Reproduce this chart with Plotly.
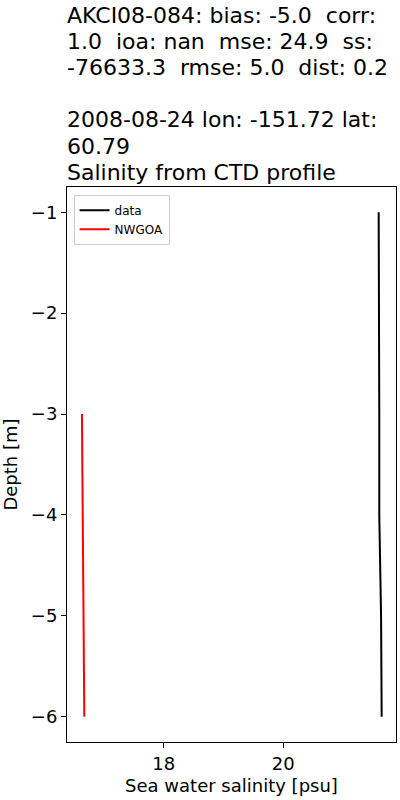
import plotly.graph_objects as go

# observed CTD profile
data_depth = [-1, -2, -3, -4, -5, -6]
data_sal = [21.60, 21.61, 21.61, 21.61, 21.64, 21.65]

# model profile
model_depth = [-3, -4, -5, -6]
model_sal = [16.63, 16.64, 16.66, 16.67]

title_lines = [
    "AKCI08-084: bias: -5.0  corr:",
    "1.0  ioa: nan  mse: 24.9  ss:",
    "-76633.3  rmse: 5.0  dist: 0.2",
    "",
    "2008-08-24 lon: -151.72 lat:",
    "60.79",
    "Salinity from CTD profile",
]

font = "DejaVu Sans"
W, H = 400, 800
L, R, T, B = 67, 4, 187, 58
config = {"displayModeBar": False}

fig = go.Figure()
fig.add_trace(go.Scatter(x=data_sal, y=data_depth, mode="lines", name="data",
                         line=dict(color="black", width=2)))
fig.add_trace(go.Scatter(x=model_sal, y=model_depth, mode="lines", name="NWGOA",
                         line=dict(color="red", width=2)))

# title lines as separate annotations (matplotlib line spacing)
plot_h = H - T - B
plot_bottom = H - B
for i, txt in enumerate(title_lines):
    if not txt:
        continue
    baseline = 23.5 + 26.2 * i
    fig.add_annotation(text=txt, xref="paper", yref="paper", x=0, xanchor="left",
                       y=(plot_bottom - baseline - 5) / plot_h, yanchor="bottom",
                       showarrow=False, borderpad=0, xshift=-1,
                       font=dict(family=font, size=22, color="black"))

axis_common = dict(showline=True, mirror=True, linecolor="black", linewidth=1,
                   ticks="outside", ticklen=5, tickcolor="black", showgrid=False,
                   zeroline=False, tickfont=dict(family=font, size=18, color="black"))

fig.update_layout(
    width=W, height=H,
    margin=dict(l=L, r=R, t=T, b=B),
    plot_bgcolor="white", paper_bgcolor="white",
    font=dict(family=font, color="black"),
    showlegend=True,
    legend=dict(x=0.02, y=0.986, xanchor="left", yanchor="top",
                bgcolor="rgba(255,255,255,0.8)", bordercolor="#cccccc", borderwidth=1,
                tracegroupgap=0, itemwidth=30,
                font=dict(family=font, size=12, color="black")),
    xaxis=dict(range=[16.38, 21.89], tickvals=[18, 20],
               title=dict(text="Sea water salinity [psu]", font=dict(family=font, size=18), standoff=6),
               **axis_common),
    yaxis=dict(range=[-6.25, -0.75], tickvals=[-6, -5, -4, -3, -2, -1],
               title=dict(text="Depth [m]", font=dict(family=font, size=18), standoff=8),
               **axis_common),
)

# drop the default body margin so the figure sits at the window corner
fig.write_html("out.html", config=config, post_script="document.body.style.margin='0';")
